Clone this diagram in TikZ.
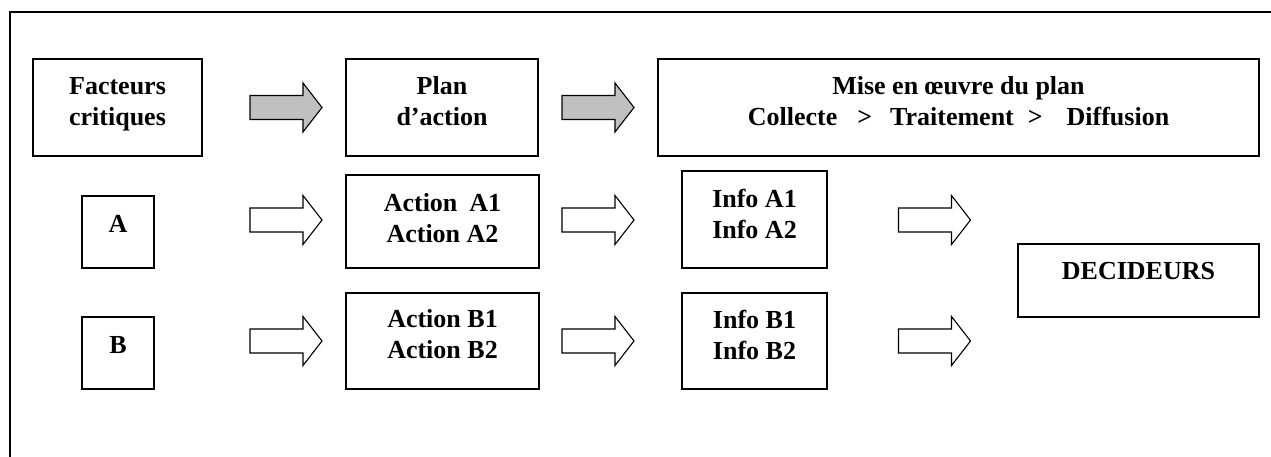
\documentclass[tikz,border=0pt]{standalone}
\usepackage{fontspec}
\setmainfont{Liberation Serif}
\definecolor{arrgray}{RGB}{192,192,192}
\tikzset{
  box/.style={draw, line width=1.3pt, inner sep=0pt},
  txt/.style={font=\fontsize{26}{31}\selectfont\bfseries, align=center, anchor=base, inner sep=0pt},
  frameline/.style={line width=1.6pt},
  barrow/.pic={\draw[line width=1.1pt, line join=miter, fill=#1] (-36,-12) -- (17,-12) -- (17,-24.5) -- (36,0) -- (17,24.5) -- (17,12) -- (-36,12) -- cycle;}
}
\begin{document}
\begin{tikzpicture}[x=1pt,y=-1pt]
\useasboundingbox (0,0) rectangle (1271,457);
\draw[frameline] (10,457) -- (10,12) -- (1271,12);
% boxes
\node[box, minimum width=169pt, minimum height=97pt] (fc) at (117.5,107.5) {};
\node[box, minimum width=192pt, minimum height=97pt] (pa) at (442,107.5) {};
\node[box, minimum width=601pt, minimum height=97pt] (mo) at (958.5,107.5) {};
\node[box, minimum width=72pt, minimum height=72pt] (a) at (118,232) {};
\node[box, minimum width=72pt, minimum height=72pt] (b) at (118,353) {};
\node[box, minimum width=193pt, minimum height=93pt] (aa) at (442.5,221.5) {};
\node[box, minimum width=193pt, minimum height=96pt] (ab) at (442.5,341) {};
\node[box, minimum width=145pt, minimum height=97pt] (ia) at (754.5,219.5) {};
\node[box, minimum width=145pt, minimum height=96pt] (ib) at (754.5,341) {};
\node[box, minimum width=241pt, minimum height=73pt] (dec) at (1138.5,280.5) {};
% texts (base anchor = last line's baseline)
\node[txt] (tfc) at (117.5,126) {Facteurs\\critiques};
\node[txt] (tpa) at (442,126) {Plan\\d’action};
\node[txt] (tmo) at (958.5,126) {Mise en œuvre du plan\\Collecte\hspace{20pt}>\hspace{18pt}Traitement\hspace{14pt}>\hspace{24pt}Diffusion};
\node[txt] (ta) at (118,232) {A};
\node[txt] (tb) at (118,353) {B};
\node[txt] (taa) at (442.5,242) {Action\hspace{12pt}A1\\Action A2};
\node[txt] (tab) at (442.5,358) {Action B1\\Action B2};
\node[txt] (tia) at (754.5,238) {Info A1\\Info A2};
\node[txt] (tib) at (754.5,359) {Info B1\\Info B2};
\node[txt] (tdec) at (1138.5,279) {DECIDEURS};
% block arrows
\pic at (286,107.5) {barrow=arrgray};
\pic at (598,107.5) {barrow=arrgray};
\pic at (286,220) {barrow=white};
\pic at (598,220) {barrow=white};
\pic at (934.5,220) {barrow=white};
\pic at (286,341) {barrow=white};
\pic at (598,341) {barrow=white};
\pic at (934.5,341) {barrow=white};
\end{tikzpicture}
\end{document}
